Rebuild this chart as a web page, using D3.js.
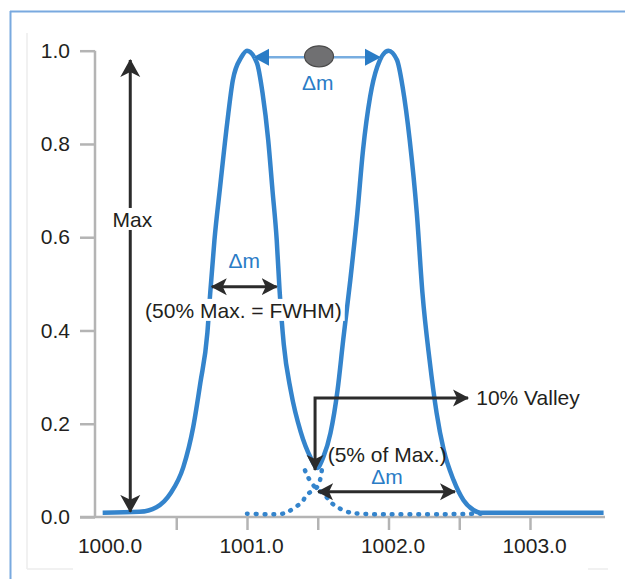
<!DOCTYPE html>
<html>
<head>
<meta charset="utf-8">
<script src="https://d3js.org/d3.v7.min.js"></script>
<style>
  body { margin: 0; background: #fff; }
  svg text { font-family: "Liberation Sans", Arial, sans-serif; }
  .axis .domain { display: none; }
  .axis line { stroke: #b4b4b4; stroke-width: 2.5; }
  .axis text { font-size: 21px; fill: #231f20; }
</style>
</head>
<body>
<svg id="chart" width="625" height="579"></svg>
<script>
// ---- data ----
const xTicks = [1000.5, 1001, 1001.5, 1002, 1002.5, 1003];
const xLabels = [1000, 1001, 1002, 1003];
const yTicks = [0, 0.2, 0.4, 0.6, 0.8, 1.0];

// solid envelope (sum of both peaks)
const envMass = [999.98, 1000.24, 1000.36, 1000.46, 1000.55, 1000.62, 1000.67, 1000.72, 1000.74, 1000.77,
  1000.81, 1000.86, 1000.90, 1000.96, 1001.0, 1001.07, 1001.11, 1001.15, 1001.18, 1001.21, 1001.23,
  1001.26, 1001.31, 1001.38, 1001.45, 1001.495, 1001.54, 1001.59, 1001.64, 1001.68, 1001.73, 1001.78,
  1001.82, 1001.87, 1001.92, 1002.0, 1002.06, 1002.10, 1002.15, 1002.20, 1002.24, 1002.29, 1002.34,
  1002.39, 1002.46, 1002.53, 1002.60, 1002.65, 1003.52];
const envIntensity = [0.009, 0.011, 0.021, 0.051, 0.107, 0.193, 0.287, 0.395, 0.480, 0.594,
  0.708, 0.845, 0.937, 0.986, 1.0, 0.974, 0.909, 0.808, 0.701, 0.594, 0.487,
  0.370, 0.270, 0.182, 0.127, 0.105, 0.129, 0.180, 0.272, 0.380, 0.508, 0.652,
  0.787, 0.901, 0.965, 1.0, 0.980, 0.922, 0.808, 0.652, 0.480, 0.337, 0.223,
  0.144, 0.079, 0.036, 0.015, 0.009, 0.009];

// dotted single-peak tails
const tailLeftMass = [1001.41, 1001.43, 1001.48, 1001.55, 1001.59, 1001.64, 1001.71, 1001.80, 1002.65];
const tailLeftIntensity = [0.100, 0.086, 0.064, 0.047, 0.032, 0.021, 0.011, 0.007, 0.007];
const tailRightMass = [1001.0, 1001.25, 1001.29, 1001.34, 1001.39, 1001.42, 1001.495, 1001.52, 1001.53];
const tailRightIntensity = [0.007, 0.007, 0.011, 0.021, 0.032, 0.047, 0.064, 0.084, 0.105];

// ---- setup ----
const svg = d3.select("svg#chart");
const blue = "#3484cc";
const textBlue = "#2a7cc6";
const dark = "#2b2b2b";

const x = d3.scaleLinear().domain([1000, 1003]).range([105.5, 530]);
const y = d3.scaleLinear().domain([0, 1]).range([517, 50.7]);

// outer frame
svg.append("line").attr("x1", 10).attr("x2", 625).attr("y1", 11.5).attr("y2", 11.5)
  .attr("stroke", "#79a9df").attr("stroke-width", 2);
svg.append("line").attr("x1", 10.5).attr("x2", 10.5).attr("y1", 11).attr("y2", 579)
  .attr("stroke", "#79a9df").attr("stroke-width", 2);
// faint panel edges
svg.append("line").attr("x1", 27).attr("x2", 27).attr("y1", 33).attr("y2", 569)
  .attr("stroke", "#ececec").attr("stroke-width", 1.5);
svg.append("line").attr("x1", 27).attr("x2", 73).attr("y1", 569).attr("y2", 569)
  .attr("stroke", "#ececec").attr("stroke-width", 1.5);
svg.append("line").attr("x1", 588).attr("x2", 608).attr("y1", 569).attr("y2", 569)
  .attr("stroke", "#ececec").attr("stroke-width", 1.5);

// markers
const defs = svg.append("defs");
defs.append("marker").attr("id", "blackHead")
  .attr("viewBox", "0 -11 18 22").attr("refX", 17).attr("refY", 0)
  .attr("markerUnits", "userSpaceOnUse").attr("markerWidth", 18).attr("markerHeight", 22)
  .attr("orient", "auto-start-reverse")
  .append("path").attr("d", "M0,-10 L18,0 L0,10 L5,0 Z").attr("fill", dark);
defs.append("marker").attr("id", "blackHeadS")
  .attr("viewBox", "0 -9 16 18").attr("refX", 15).attr("refY", 0)
  .attr("markerUnits", "userSpaceOnUse").attr("markerWidth", 16).attr("markerHeight", 18)
  .attr("orient", "auto-start-reverse")
  .append("path").attr("d", "M0,-8.5 L16,0 L0,8.5 L4,0 Z").attr("fill", dark);
defs.append("marker").attr("id", "blueHead")
  .attr("viewBox", "0 -9 16 18").attr("refX", 15).attr("refY", 0)
  .attr("markerUnits", "userSpaceOnUse").attr("markerWidth", 16).attr("markerHeight", 18)
  .attr("orient", "auto-start-reverse")
  .append("path").attr("d", "M0,-8.5 L16,0 L0,8.5 Z").attr("fill", textBlue);

// axes
const axisG = svg.append("g").attr("class", "axis");
axisG.append("line").attr("x1", 80).attr("x2", 605).attr("y1", y(0)).attr("y2", y(0))
  .attr("stroke", "#b4b4b4").attr("stroke-width", 2.5);
axisG.append("line").attr("x1", 95).attr("x2", 95).attr("y1", y(1)).attr("y2", y(0))
  .attr("stroke", "#b4b4b4").attr("stroke-width", 2.5);

svg.append("g").attr("class", "axis")
  .attr("transform", "translate(95,0)")
  .call(d3.axisLeft(y).tickValues(yTicks).tickSize(15).tickPadding(10).tickFormat(d3.format(".1f")));

svg.append("g").attr("class", "axis")
  .attr("transform", "translate(0," + y(0) + ")")
  .call(d3.axisBottom(x).tickValues(xTicks).tickSize(13).tickFormat(""));

svg.append("g").attr("class", "axis")
  .attr("transform", "translate(4," + y(0) + ")")
  .call(d3.axisBottom(x).tickValues(xLabels).tickSize(0).tickPadding(21).tickFormat(d3.format(".1f")));

// curves
const line = d3.line().x(d => x(d[0])).y(d => y(d[1])).curve(d3.curveMonotoneX);
const lineC = d3.line().x(d => x(d[0])).y(d => y(d[1])).curve(d3.curveCatmullRom);

svg.append("path")
  .datum(tailLeftMass.map((m, i) => [m, tailLeftIntensity[i]]))
  .attr("d", lineC).attr("fill", "none").attr("stroke", blue)
  .attr("stroke-width", 4.5).attr("stroke-linecap", "round").attr("stroke-dasharray", "0.8 8");
svg.append("path")
  .datum(tailRightMass.map((m, i) => [m, tailRightIntensity[i]]))
  .attr("d", lineC).attr("fill", "none").attr("stroke", blue)
  .attr("stroke-width", 4.5).attr("stroke-linecap", "round").attr("stroke-dasharray", "0.8 8");

svg.append("path")
  .datum(envMass.map((m, i) => [m, envIntensity[i]]))
  .attr("d", line).attr("fill", "none").attr("stroke", blue)
  .attr("stroke-width", 4.5).attr("stroke-linejoin", "round");

// annotations
const ann = svg.append("g");
function textWithBg(str, xp, yp, anchor, color) {
  const t = ann.append("text").attr("x", xp).attr("y", yp)
    .attr("text-anchor", anchor).attr("font-size", 21).attr("fill", color).text(str);
  const b = t.node().getBBox();
  ann.insert("rect", () => t.node())
    .attr("x", b.x - 3).attr("y", b.y).attr("width", b.width + 6).attr("height", b.height - 1)
    .attr("fill", "#fff");
  return t;
}

// Max arrow
ann.append("line").attr("x1", x(1000.175)).attr("x2", x(1000.175))
  .attr("y1", y(0.011)).attr("y2", y(0.98))
  .attr("stroke", dark).attr("stroke-width", 3)
  .attr("marker-start", "url(#blackHead)").attr("marker-end", "url(#blackHead)");
textWithBg("Max", x(1000.19), y(0.637) + 7, "middle", "#231f20");

// FWHM arrow
ann.append("line").attr("x1", x(1000.751)).attr("x2", x(1001.21))
  .attr("y1", y(0.494)).attr("y2", y(0.494))
  .attr("stroke", dark).attr("stroke-width", 3)
  .attr("marker-start", "url(#blackHeadS)").attr("marker-end", "url(#blackHeadS)");
ann.append("text").attr("x", x(1000.98)).attr("y", y(0.534))
  .attr("text-anchor", "middle").attr("font-size", 21).attr("fill", textBlue).text("Δm");
textWithBg("(50% Max. = FWHM)", x(1000.28), y(0.427), "start", "#231f20");

// top Δm arrow with ellipse
ann.append("line").attr("x1", x(1001.05)).attr("x2", x(1001.94))
  .attr("y1", y(0.986)).attr("y2", y(0.986))
  .attr("stroke", "#78ade0").attr("stroke-width", 2.5)
  .attr("marker-start", "url(#blueHead)").attr("marker-end", "url(#blueHead)");
ann.append("ellipse").attr("cx", x(1001.509)).attr("cy", y(0.988))
  .attr("rx", 14.5).attr("ry", 10.5)
  .attr("fill", "#707072").attr("stroke", "#4a4a4a").attr("stroke-width", 1.2);
ann.append("text").attr("x", x(1001.5)).attr("y", y(0.916))
  .attr("text-anchor", "middle").attr("font-size", 21).attr("fill", textBlue).text("Δm");

// 10% valley elbow arrow
ann.append("path")
  .attr("d", d3.line()([[x(1001.481), y(0.101)], [x(1001.481), y(0.255)], [x(1002.562), y(0.255)]]))
  .attr("fill", "none").attr("stroke", dark).attr("stroke-width", 3)
  .attr("marker-start", "url(#blackHeadS)").attr("marker-end", "url(#blackHeadS)");
ann.append("text").attr("x", x(1002.62)).attr("y", y(0.240))
  .attr("font-size", 21).attr("fill", "#231f20").text("10% Valley");

ann.append("text").attr("x", x(1001.57)).attr("y", y(0.118))
  .attr("font-size", 21).attr("fill", "#231f20").text("(5% of Max.)");

// bottom Δm arrow
ann.append("line").attr("x1", x(1001.502)).attr("x2", x(1002.47))
  .attr("y1", y(0.054)).attr("y2", y(0.054))
  .attr("stroke", dark).attr("stroke-width", 3)
  .attr("marker-start", "url(#blackHeadS)").attr("marker-end", "url(#blackHeadS)");
ann.append("text").attr("x", x(1001.99)).attr("y", y(0.071))
  .attr("text-anchor", "middle").attr("font-size", 21).attr("fill", textBlue).text("Δm");
</script>
</body>
</html>
